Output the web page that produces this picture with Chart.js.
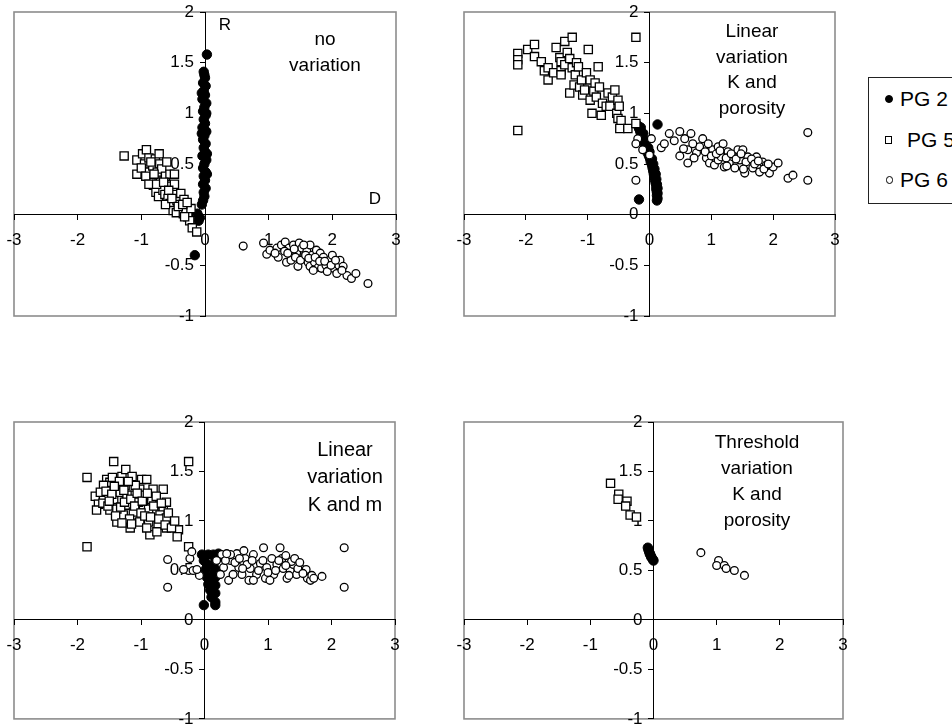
<!DOCTYPE html>
<html>
<head>
<meta charset="utf-8">
<script src="https://cdn.jsdelivr.net/npm/chart.js@4/dist/chart.umd.min.js"></script>
<style>
  html, body { margin: 0; padding: 0; background: #fff; }
  #page { position: relative; width: 952px; height: 726px; overflow: hidden; font-family: "Liberation Sans", Arial, sans-serif; color: #000; }
  #page canvas { position: absolute; left: 0; top: 0; }
  .note { position: absolute; width: 200px; text-align: center; white-space: pre; }
  #legend { position: absolute; left: 868px; top: 77px; width: 110px; height: 127px; border: 1px solid #222; box-sizing: border-box; background: #fff; }
  .lg-text { position: absolute; font-size: 21px; line-height: 24px; }
  .lg-mark { position: absolute; box-sizing: border-box; }
</style>
</head>
<body>
<div id="page">
  <canvas id="c1" width="952" height="726"></canvas>
  <canvas id="c2" width="952" height="726"></canvas>
  <canvas id="c3" width="952" height="726"></canvas>
  <canvas id="c4" width="952" height="726"></canvas>

  <div class="note" style="left:125px;top:13px;font-size:17px;line-height:24px;">R</div>
  <div class="note" style="left:225px;top:26px;font-size:19px;line-height:26px;">no
variation</div>
  <div class="note" style="left:275px;top:187px;font-size:17px;line-height:24px;">D</div>
  <div class="note" style="left:652px;top:18px;font-size:19px;line-height:25.5px;">Linear
variation
K and
porosity</div>
  <div class="note" style="left:245px;top:435.5px;font-size:20px;line-height:27.5px;">Linear
variation
K and m</div>
  <div class="note" style="left:657px;top:428.7px;font-size:19px;line-height:26px;">Threshold
variation
K and
porosity</div>

  <div id="legend"></div>
</div>

<script>
// series names and axis ticks
const seriesNames = ['PG 2', 'PG 5', 'PG 6'];
const xTickValues = [-3, -2, -1, 0, 1, 2, 3];
const xTickLabels = ['-3', '-2', '-1', '0', '1', '2', '3'];
const yTickValues = [-1, -0.5, 0, 0.5, 1, 1.5, 2];
const yTickLabels = ['-1', '-0.5', '0', '0.5', '1', '1.5', '2'];

// panel 1 : no variation  [D, R]
const p1Pg2 = [[0.03,1.58],[-0.02,1.41],[-0.01,1.38],[0.0,1.35],[-0.03,1.3],[0.01,1.27],[-0.05,1.2],[-0.02,1.22],[0.0,1.18],[-0.04,1.14],[0.02,1.1],[-0.01,1.06],[-0.03,1.02],[0.02,1.0],[0.01,0.98],[-0.02,0.94],[0.0,0.9],[-0.04,0.86],[0.02,0.82],[-0.05,0.8],[-0.01,0.78],[-0.03,0.74],[0.01,0.7],[-0.02,0.66],[0.0,0.62],[0.03,0.6],[-0.04,0.58],[0.02,0.54],[-0.01,0.5],[-0.03,0.46],[0.01,0.42],[0.03,0.4],[-0.02,0.38],[0.0,0.34],[-0.03,0.3],[0.01,0.26],[-0.02,0.22],[-0.01,0.18],[-0.03,0.14],[-0.05,0.1],[-0.12,0.01],[-0.08,-0.03],[-0.1,-0.06],[-0.16,-0.4]];
const p1Pg5 = [[-1.27,0.58],[-1.07,0.54],[-1.07,0.4],[-0.98,0.6],[-0.92,0.64],[-0.95,0.5],[-0.88,0.56],[-0.9,0.42],[-0.85,0.35],[-0.82,0.48],[-0.78,0.55],[-0.72,0.6],[-0.71,0.5],[-0.75,0.42],[-0.7,0.33],[-0.68,0.45],[-0.62,0.38],[-0.6,0.28],[-0.55,0.4],[-0.48,0.4],[-0.81,0.29],[-0.77,0.22],[-0.73,0.18],[-0.66,0.24],[-0.63,0.2],[-0.58,0.16],[-0.55,0.11],[-0.5,0.22],[-0.46,0.2],[-0.44,0.14],[-0.38,0.21],[-0.33,0.15],[-0.4,0.1],[-0.37,0.05],[-0.5,0.04],[-0.45,0.02],[-0.34,0.01],[-0.3,0.06],[-0.22,0.06],[-0.27,-0.02],[-0.24,-0.06],[-0.2,-0.13],[-0.13,-0.17],[-0.62,0.1],[-0.85,0.52],[-0.6,0.52],[-0.48,0.3],[-1.0,0.46],[-0.93,0.38],[-0.88,0.3],[-0.8,0.4],[-0.76,0.3],[-0.65,0.32],[-0.57,0.24],[-0.52,0.16],[-0.42,0.08],[-0.35,0.1],[-0.32,-0.02],[-0.28,0.12]];
const p1Pg6 = [[0.6,-0.31],[0.92,-0.28],[0.97,-0.39],[1.02,-0.35],[1.13,-0.33],[1.15,-0.42],[1.2,-0.3],[1.26,-0.27],[1.28,-0.47],[1.32,-0.33],[1.35,-0.45],[1.39,-0.3],[1.44,-0.37],[1.46,-0.51],[1.48,-0.28],[1.52,-0.33],[1.55,-0.42],[1.6,-0.36],[1.62,-0.47],[1.65,-0.51],[1.65,-0.3],[1.68,-0.4],[1.72,-0.47],[1.75,-0.35],[1.78,-0.52],[1.81,-0.38],[1.83,-0.53],[1.86,-0.42],[1.9,-0.5],[1.96,-0.45],[2.0,-0.4],[2.02,-0.53],[2.07,-0.58],[2.1,-0.5],[2.12,-0.45],[2.17,-0.51],[2.23,-0.6],[2.3,-0.63],[2.37,-0.58],[2.56,-0.68],[1.25,-0.36],[1.7,-0.55],[1.92,-0.56],[1.3,-0.38],[1.42,-0.42],[1.5,-0.45],[1.58,-0.4],[1.63,-0.43],[1.73,-0.42],[1.8,-0.46],[1.88,-0.46],[1.98,-0.5],[2.05,-0.45],[2.15,-0.55],[1.4,-0.34],[1.1,-0.38],[1.55,-0.3]];

// panel 2 : linear variation K and porosity
const p2Pg2 = [[0.13,0.89],[-0.17,0.15],[-0.19,0.88],[-0.17,0.85],[-0.15,0.82],[-0.13,0.79],[-0.11,0.75],[-0.09,0.72],[-0.07,0.68],[-0.05,0.65],[-0.03,0.61],[-0.01,0.58],[0.01,0.55],[0.02,0.52],[0.04,0.49],[0.05,0.46],[0.06,0.43],[0.07,0.4],[0.08,0.37],[0.09,0.34],[0.1,0.31],[0.11,0.28],[0.11,0.25],[0.12,0.22],[0.12,0.19],[0.13,0.16],[0.12,0.14],[0.04,0.55],[0.06,0.5],[0.08,0.45],[0.1,0.4],[0.11,0.35],[0.12,0.3],[0.13,0.26],[0.13,0.21],[-0.14,0.86],[-0.1,0.8],[-0.06,0.73],[-0.02,0.66],[0.0,0.62]];
const p2Pg5 = [[-2.13,1.59],[-2.13,1.53],[-2.13,1.48],[-2.13,0.83],[-1.97,1.63],[-1.86,1.68],[-1.86,1.56],[-1.75,1.51],[-1.7,1.42],[-1.64,1.45],[-1.64,1.33],[-1.55,1.4],[-1.51,1.65],[-1.45,1.55],[-1.43,1.51],[-1.43,1.42],[-1.43,1.38],[-1.37,1.71],[-1.37,1.48],[-1.33,1.6],[-1.29,1.54],[-1.29,1.2],[-1.25,1.75],[-1.25,1.45],[-1.22,1.28],[-1.2,1.38],[-1.18,1.5],[-1.15,1.46],[-1.13,1.26],[-1.1,1.33],[-1.08,1.18],[-1.05,1.23],[-1.02,1.4],[-0.99,1.63],[-0.96,1.33],[-0.96,1.13],[-0.93,1.0],[-0.9,1.22],[-0.88,1.3],[-0.86,1.16],[-0.83,1.46],[-0.81,1.26],[-0.78,0.98],[-0.76,1.1],[-0.7,1.07],[-0.67,1.2],[-0.64,1.07],[-0.6,1.16],[-0.56,1.23],[-0.53,1.0],[-0.51,1.13],[-0.49,1.07],[-0.51,0.95],[-0.46,0.93],[-0.48,0.85],[-0.35,0.85],[-0.22,0.9],[-0.22,1.75]];
const p2Pg6 = [[-0.22,0.34],[-0.19,0.75],[-0.22,0.7],[-0.11,0.64],[0.0,0.59],[0.03,0.75],[0.19,0.66],[0.24,0.7],[0.32,0.8],[0.4,0.73],[0.49,0.82],[0.57,0.75],[0.67,0.8],[0.49,0.58],[0.62,0.51],[0.62,0.64],[0.76,0.61],[0.81,0.67],[0.86,0.75],[0.92,0.56],[0.97,0.51],[1.02,0.64],[1.05,0.49],[1.11,0.54],[1.11,0.67],[1.16,0.57],[1.19,0.7],[1.21,0.47],[1.27,0.62],[1.29,0.51],[1.35,0.57],[1.38,0.46],[1.43,0.64],[1.46,0.54],[1.51,0.64],[1.54,0.41],[1.59,0.57],[1.62,0.49],[1.67,0.46],[1.73,0.57],[1.78,0.42],[1.83,0.52],[1.89,0.49],[1.94,0.41],[2.0,0.47],[2.08,0.51],[2.24,0.36],[2.32,0.39],[2.56,0.81],[2.56,0.34],[0.7,0.7],[0.9,0.62],[0.95,0.7],[1.0,0.58],[1.08,0.6],[1.14,0.63],[1.24,0.56],[1.32,0.6],[1.4,0.55],[1.48,0.6],[1.56,0.52],[1.65,0.55],[1.7,0.5],[1.76,0.53],[1.85,0.45],[1.92,0.5],[1.25,0.48],[0.55,0.65],[0.72,0.56],[1.52,0.45]];

// panel 3 : linear variation K and m
const p3Pg2 = [[-0.01,0.15],[-0.04,0.66],[-0.01,0.6],[0.02,0.51],[0.04,0.43],[0.06,0.36],[0.09,0.3],[0.11,0.23],[0.14,0.66],[0.17,0.6],[0.17,0.51],[0.17,0.43],[0.17,0.35],[0.17,0.27],[0.17,0.18],[0.17,0.15],[0.06,0.66],[0.22,0.67],[0.01,0.65],[0.14,0.36],[0.14,0.46],[0.14,0.55],[0.14,0.28],[0.04,0.56],[0.09,0.41]];
const p3Pg5 = [[-1.85,1.44],[-1.85,0.74],[-1.43,1.6],[-0.25,1.6],[-1.72,1.25],[-1.67,1.17],[-1.7,1.11],[-1.59,1.22],[-1.54,1.42],[-1.49,1.11],[-1.41,1.32],[-1.38,0.99],[-1.36,1.22],[-1.3,1.45],[-1.24,1.52],[-1.25,1.36],[-1.2,1.16],[-1.17,0.93],[-1.14,1.45],[-1.12,1.26],[-1.07,1.06],[-1.02,1.32],[-0.99,1.42],[-0.96,1.16],[-0.91,1.42],[-0.88,0.99],[-0.86,0.86],[-0.83,1.22],[-0.81,1.32],[-0.78,1.09],[-0.73,0.96],[-0.65,1.32],[-0.65,1.12],[-0.6,0.93],[-0.54,0.99],[-0.49,0.96],[-0.41,0.91],[-0.43,0.84],[-0.25,0.74],[-1.43,1.22],[-1.33,1.29],[-1.49,1.39],[-1.59,1.36],[-1.64,1.29],[-1.28,1.06],[-1.12,1.09],[-1.02,0.99],[-0.91,0.93],[-0.7,1.06],[-0.75,0.89],[-1.04,1.19],[-1.22,1.26],[-1.38,1.12],[-1.09,1.36],[-0.88,1.12],[-0.6,1.03],[-0.96,1.26],[-0.6,1.19],[-1.6,1.18],[-1.55,1.3],[-1.52,1.15],[-1.46,1.27],[-1.45,1.44],[-1.4,1.05],[-1.34,1.4],[-1.32,1.14],[-1.27,1.31],[-1.26,1.19],[-1.2,1.4],[-1.18,1.02],[-1.16,1.22],[-1.1,1.15],[-1.06,1.28],[-1.0,1.08],[-0.98,1.2],[-0.94,1.05],[-0.9,1.28],[-0.85,1.04],[-0.8,1.15],[-0.76,1.25],[-0.72,1.02],[-0.68,1.18],[-0.62,0.96],[-0.57,1.08],[-0.52,0.93],[-0.47,1.0],[-1.15,0.97],[-1.3,0.98],[-1.5,1.2],[-1.42,1.35]];
const p3Pg6 = [[-0.58,0.61],[-0.58,0.33],[-0.33,0.51],[-0.23,0.62],[-0.18,0.5],[-0.08,0.45],[-0.2,0.69],[-0.12,0.51],[0.27,0.66],[0.3,0.53],[0.38,0.4],[0.41,0.6],[0.51,0.67],[0.54,0.53],[0.59,0.46],[0.64,0.62],[0.7,0.4],[0.72,0.52],[0.77,0.66],[0.82,0.46],[0.88,0.57],[0.93,0.73],[0.96,0.42],[0.98,0.53],[1.06,0.62],[1.09,0.46],[1.14,0.56],[1.19,0.73],[1.22,0.62],[1.24,0.52],[1.3,0.42],[1.35,0.5],[1.4,0.56],[1.45,0.46],[1.53,0.51],[1.6,0.51],[1.62,0.42],[1.67,0.4],[1.69,0.45],[1.85,0.44],[2.2,0.73],[2.2,0.33],[0.45,0.46],[0.67,0.56],[0.41,0.66],[0.77,0.4],[1.03,0.4],[1.37,0.59],[0.19,0.6],[0.25,0.46],[0.33,0.6],[0.48,0.58],[0.6,0.52],[0.75,0.6],[0.85,0.5],[0.92,0.6],[1.0,0.48],[1.12,0.5],[1.17,0.6],[1.28,0.55],[1.33,0.45],[1.47,0.52],[1.55,0.47],[1.28,0.65],[0.55,0.62],[1.42,0.62],[0.35,0.67],[0.62,0.7],[1.5,0.58],[1.72,0.42]];

// panel 4 : threshold variation K and porosity
const p4Pg2 = [[-0.09,0.73],[-0.08,0.71],[-0.07,0.69],[-0.06,0.67],[-0.05,0.66],[-0.04,0.64],[-0.03,0.63],[-0.01,0.61],[0.0,0.6]];
const p4Pg5 = [[-0.68,1.38],[-0.55,1.27],[-0.56,1.22],[-0.42,1.2],[-0.44,1.15],[-0.37,1.06],[-0.27,1.04]];
const p4Pg6 = [[0.75,0.68],[1.03,0.6],[1.0,0.55],[1.12,0.55],[1.15,0.52],[1.28,0.5],[1.44,0.45]];

const panels = [
  { id: 'c1', box: [14, 12, 396, 316], series: [p1Pg2, p1Pg5, p1Pg6] },
  { id: 'c2', box: [464, 12, 835, 316], series: [p2Pg2, p2Pg5, p2Pg6] },
  { id: 'c3', box: [14, 422, 395, 724], series: [p3Pg2, p3Pg5, p3Pg6] },
  { id: 'c4', box: [464, 422, 843, 724], series: [p4Pg2, p4Pg5, p4Pg6] },
];

const markerStyles = [
  { pointStyle: 'circle', radius: 4.7, backgroundColor: '#000', borderColor: '#000', borderWidth: 1 },
  { pointStyle: 'rect', radius: 5.8, backgroundColor: '#fff', borderColor: '#000', borderWidth: 1.3 },
  { pointStyle: 'circle', radius: 3.9, backgroundColor: '#fff', borderColor: '#000', borderWidth: 1.3 },
];

Chart.defaults.font.family = '"Liberation Sans", Arial, sans-serif';
Chart.defaults.color = '#000';

const plotFrame = {
  id: 'plotFrame',
  beforeDraw(chart) {
    const { ctx, chartArea: a } = chart;
    ctx.save();
    ctx.strokeStyle = '#8c8c8c';
    ctx.lineWidth = 1.6;
    ctx.strokeRect(a.left, a.top, a.right - a.left, a.bottom - a.top);
    ctx.restore();

    // y labels sit left of the crossing axis, not on it
    const items = chart.scales.y.getLabelItems(a);
    items.forEach(it => {
      if (!it.shifted) { it.options.translation[0] -= 11; it.shifted = true; }
    });
  }
};

function zeroSize(scale) {
  if (scale.isHorizontal()) scale.height = 0; else scale.width = 0;
  scale.paddingLeft = 0;
  scale.paddingRight = 0;
  scale.paddingTop = 0;
  scale.paddingBottom = 0;
}

panels.forEach(p => {
  const [l, t, r, b] = p.box;
  const datasets = p.series.map((pts, i) => ({
    label: seriesNames[i],
    data: pts.map(([x, y]) => ({ x, y })),
    pointStyle: markerStyles[i].pointStyle,
    pointRadius: markerStyles[i].radius,
    pointBackgroundColor: markerStyles[i].backgroundColor,
    pointBorderColor: markerStyles[i].borderColor,
    pointBorderWidth: markerStyles[i].borderWidth,
    showLine: false,
    clip: false,
    order: 3 - i,
  }));

  new Chart(document.getElementById(p.id), {
    type: 'scatter',
    data: { datasets },
    options: {
      responsive: false,
      animation: false,
      devicePixelRatio: 1,
      events: [],
      layout: { padding: { left: l, top: t, right: 952 - r, bottom: 726 - b } },
      plugins: { legend: { display: false }, tooltip: { enabled: false } },
      scales: {
        x: {
          type: 'linear',
          min: -3, max: 3,
          position: { y: 0 },
          afterBuildTicks: s => { s.ticks = xTickValues.map(v => ({ value: v })); },
          afterFit: zeroSize,
          ticks: { autoSkip: false, maxRotation: 0, padding: 10, font: { size: 17 },
                   callback: (v, i) => xTickLabels[i] },
          grid: { drawOnChartArea: false, drawTicks: true, tickLength: 5, color: '#000', lineWidth: 1 },
          border: { display: true, color: '#000', width: 1 },
        },
        y: {
          type: 'linear',
          min: -1, max: 2,
          position: { x: 0 },
          afterBuildTicks: s => { s.ticks = yTickValues.map(v => ({ value: v })); },
          afterFit: zeroSize,
          ticks: { autoSkip: false, padding: 7, font: { size: 17 },
                   callback: (v, i) => yTickLabels[i] },
          grid: { drawOnChartArea: false, drawTicks: true, tickLength: 5, color: '#000', lineWidth: 1 },
          border: { display: true, color: '#000', width: 1 },
        },
      },
    },
    plugins: [plotFrame],
  });
});

// legend (html)
const legendRows = [
  { top: 99, textLeft: 900, mark: { left: 884.5, size: 8.5, fill: '#000', radius: '50%' } },
  { top: 140, textLeft: 907, mark: { left: 884.5, size: 7.5, fill: '#fff', radius: '0' } },
  { top: 180, textLeft: 900, mark: { left: 885.5, size: 7.5, fill: '#fff', radius: '50%' } },
];
const legendEl = document.getElementById('legend');
legendRows.forEach((row, i) => {
  const m = document.createElement('div');
  m.className = 'lg-mark';
  m.style.left = (row.mark.left - 869) + 'px';
  m.style.top = (row.top - 78 - row.mark.size / 2) + 'px';
  m.style.width = row.mark.size + 'px';
  m.style.height = row.mark.size + 'px';
  m.style.borderRadius = row.mark.radius;
  m.style.background = row.mark.fill;
  m.style.border = '1px solid #000';
  legendEl.appendChild(m);
  const tx = document.createElement('div');
  tx.className = 'lg-text';
  tx.textContent = seriesNames[i];
  tx.style.left = (row.textLeft - 869) + 'px';
  tx.style.top = (row.top - 78 - 12) + 'px';
  legendEl.appendChild(tx);
});
</script>
</body>
</html>
